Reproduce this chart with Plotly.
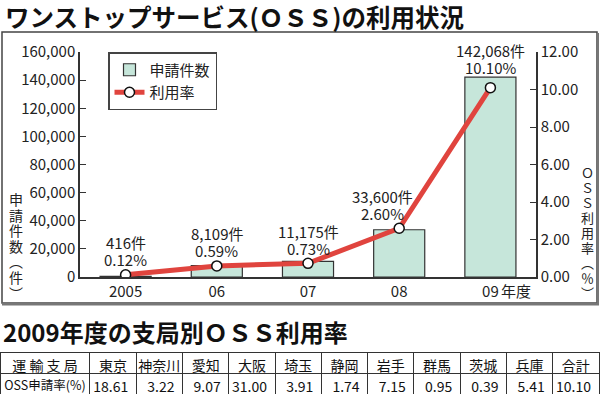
import plotly.graph_objects as go

# ---- data ----
years = ["2005", "06", "07", "08", "09"]
counts = [416, 8109, 11175, 33600, 142068]
rates = [0.12, 0.59, 0.73, 2.60, 10.10]

branches = ["東京", "神奈川", "愛知", "大阪", "埼玉", "静岡", "岩手", "群馬", "茨城", "兵庫", "合計"]
branch_rates = [18.61, 3.22, 9.07, 31.00, 3.91, 1.74, 7.15, 0.95, 0.39, 5.41, 10.10]

y_ticks = [0, 20000, 40000, 60000, 80000, 100000, 120000, 140000, 160000]
y2_ticks = [0, 2, 4, 6, 8, 10, 12]

W, H = 600, 399
FONT = "Noto Sans CJK JP"
BAR_FILL = "#c6e6da"
EDGE = "#333333"
RED = "#e0443e"

def px(x):
    return x / W

def py(y):
    return (H - y) / H

def vertical(chars, size):
    return "<br>".join(f"<span style='font-size:{size}px'>{c}</span>" for c in chars)

fig = go.Figure()

fig.add_trace(go.Bar(
    x=years, y=counts, name="申請件数", width=0.56,
    marker=dict(color=BAR_FILL, line=dict(color=EDGE, width=1.2)),
    yaxis="y", hoverinfo="skip"))

fig.add_trace(go.Scatter(
    x=years, y=rates, name="利用率", mode="lines+markers", yaxis="y2",
    line=dict(color=RED, width=5),
    marker=dict(size=10, color="white", line=dict(color="#111", width=1.5)),
    hoverinfo="skip"))

# data labels (category axis -> use category index for annotation x)
label_xshift = [0, 0, 0, -17, 0]
annotations = []
for i, (yr, c, r) in enumerate(zip(years, counts, rates)):
    last = i == len(years) - 1
    if last:
        yref, yv, s1, s2 = "y", c, 10, 27
    else:
        yref, yv, s1, s2 = "y2", r, 15, 32
    annotations.append(dict(x=i, y=yv, xref="x", yref=yref, text=f"{r:.2f}%",
                            showarrow=False, yshift=s1, xshift=label_xshift[i],
                            font=dict(size=15, family=FONT, color="#222"),
                            yanchor="middle"))
    annotations.append(dict(x=i, y=yv, xref="x", yref=yref, text=f"{c:,}件",
                            showarrow=False, yshift=s2, xshift=label_xshift[i],
                            font=dict(size=15, family=FONT, color="#222"),
                            yanchor="middle"))

# "年度" after last tick label
annotations.append(dict(x=len(years) - 1, y=py(290), xref="x", yref="paper", text="年度",
                        showarrow=False, xanchor="left", xshift=9, yanchor="middle",
                        font=dict(size=15, family=FONT, color="#222")))

# titles
annotations.append(dict(x=px(3), y=py(16), xref="paper", yref="paper",
                        text="<b>ワンストップサービス(ＯＳＳ)の利用状況</b>",
                        showarrow=False, xanchor="left", yanchor="middle",
                        font=dict(size=24.5, family=FONT, color="#111")))
annotations.append(dict(x=px(1), y=py(331), xref="paper", yref="paper",
                        text="<b>2009年度の支局別ＯＳＳ利用率</b>",
                        showarrow=False, xanchor="left", yanchor="middle",
                        font=dict(size=24, family=FONT, color="#111")))

# vertical axis titles (stacked characters)
annotations.append(dict(x=px(16), y=py(246), xref="paper", yref="paper",
                        text=vertical(["申", "請", "件", "数", "︵", "件", "︶"], 14),
                        showarrow=False, xanchor="center", yanchor="middle",
                        font=dict(size=12, family=FONT, color="#222")))
annotations.append(dict(x=px(587), y=py(232), xref="paper", yref="paper",
                        text=vertical(["Ｏ", "Ｓ", "Ｓ", "利", "用", "率", "︵", "％", "︶"], 13),
                        showarrow=False, xanchor="center", yanchor="middle",
                        font=dict(size=11.5, family=FONT, color="#222")))

# table
fig.add_trace(go.Table(
    domain=dict(x=[0, px(599)], y=[py(394), py(352)]),
    columnwidth=[90] + [46.3] * len(branches),
    header=dict(values=["運 輸 支 局"] + branches, height=21,
                align="center", fill_color="white",
                line=dict(color="#333", width=1),
                font=dict(size=14, family=FONT, color="#111")),
    cells=dict(values=[["OSS申請率(%)"]] + [[f"{v:.2f}"] for v in branch_rates], height=21,
               align=["center"] + ["right"] * len(branches), fill_color="white",
               line=dict(color="#333", width=1),
               font=dict(size=[12.5] + [14] * len(branches), family=FONT, color="#111"))))

shapes = [
    dict(type="rect", xref="paper", yref="paper", x0=px(2), x1=px(597), y0=py(303), y1=py(32),
         line=dict(color="#444", width=1.5)),
    dict(type="line", xref="paper", yref="paper", x0=px(2), x1=px(599), y0=py(304), y1=py(304),
         line=dict(color="#777", width=3)),
    dict(type="line", xref="paper", yref="paper", x0=px(598), x1=px(598), y0=py(304), y1=py(33),
         line=dict(color="#777", width=2)),
]

fig.update_layout(
    width=W, height=H, autosize=False,
    margin=dict(l=0, r=0, t=0, b=0, pad=0, autoexpand=False),
    paper_bgcolor="white", plot_bgcolor="white",
    font=dict(family=FONT, color="#222"),
    showlegend=True,
    legend=dict(x=px(108), y=py(52), xanchor="left", yanchor="top",
                bordercolor="#444", borderwidth=1.5, bgcolor="white",
                font=dict(size=15, family=FONT, color="#222"),
                tracegroupgap=2),
    xaxis=dict(domain=[px(80), px(536)], type="category", range=[-0.5, 4.5],
               showline=True, linecolor=EDGE, linewidth=1.5, ticks="",
               showgrid=False, zeroline=False, automargin=False,
               tickfont=dict(size=15, family=FONT, color="#222")),
    yaxis=dict(domain=[py(277), py(52)], range=[0, 160000], tickvals=y_ticks,
               tickformat=",", ticks="inside", ticklen=6, tickcolor=EDGE,
               showline=True, linecolor=EDGE, linewidth=1.5, showgrid=False,
               zeroline=False, automargin=False,
               tickfont=dict(size=15, family=FONT, color="#222")),
    yaxis2=dict(overlaying="y", side="right", range=[0, 12], tickvals=y2_ticks,
                tickformat=".2f", ticks="inside", ticklen=6, tickcolor=EDGE,
                showline=True, linecolor=EDGE, linewidth=1.5, showgrid=False,
                zeroline=False, automargin=False,
                tickfont=dict(size=15, family=FONT, color="#222")),
    annotations=annotations,
    shapes=shapes,
)

fig.write_html("out.html", config={"displayModeBar": False},
               post_script="document.body.style.margin='0';document.body.style.overflow='hidden';")
